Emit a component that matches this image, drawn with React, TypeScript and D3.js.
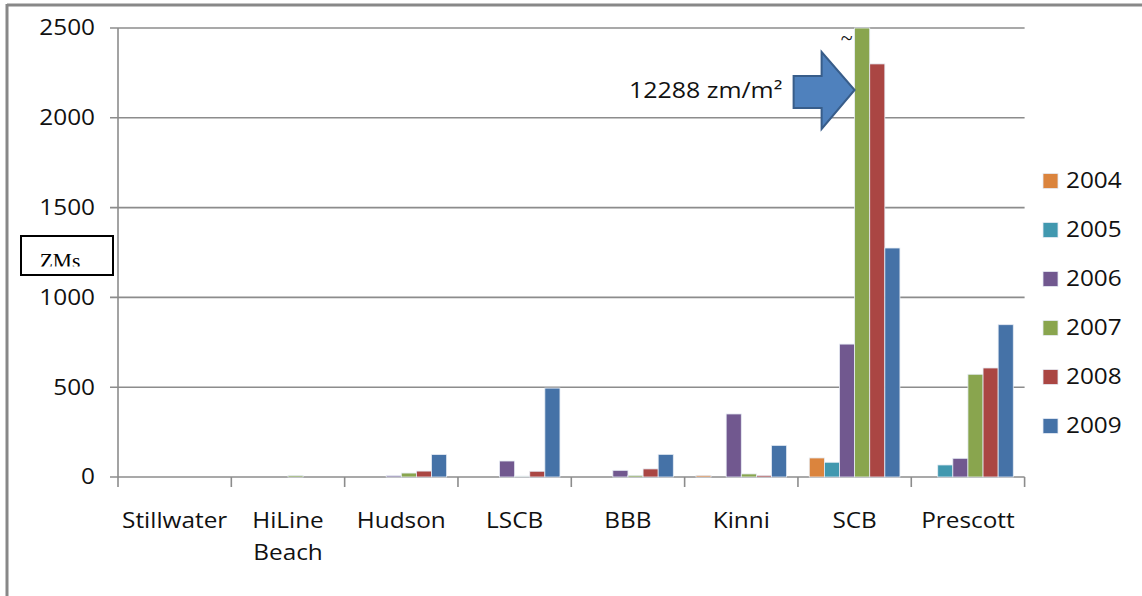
import React from "react";
import * as d3 from "d3";

const categories = ["Stillwater", "HiLine Beach", "Hudson", "LSCB", "BBB", "Kinni", "SCB", "Prescott"];
const years = ["2004", "2005", "2006", "2007", "2008", "2009"];
const colors = ["#DB843D", "#4198AF", "#71588F", "#89A54E", "#AA4643", "#4572A7"];
const v2004 = [0, 0, 0, 0, 0, 9, 106, 0];
const v2005 = [0, 0, 0, 0, 0, 0, 82, 67];
const v2006 = [0, 0, 7, 89, 37, 351, 740, 104];
const v2007 = [0, 8, 22, 5, 9, 17, 12288, 572];
const v2008 = [0, 0, 33, 32, 45, 9, 2300, 607];
const v2009 = [0, 0, 125, 495, 126, 176, 1275, 848];
const series = [v2004, v2005, v2006, v2007, v2008, v2009];
const yTicks = [0, 500, 1000, 1500, 2000, 2500];
const annotation = "12288 zm/m²";

const FONT = "'Open Sans', Lato, sans-serif";
const SX = 1.16;

function SText(props: { x: number; y: number; anchor?: string; size: number; lines?: string[]; text?: string; lh?: number }) {
  const { x, y, anchor = "start", size, lines, text, lh = 32 } = props;
  const ls = lines ?? [text ?? ""];
  return (
    <text
      transform={`translate(${x},${y}) scale(${SX},1)`}
      textAnchor={anchor}
      fontFamily={FONT}
      fontSize={size}
      fill="#111"
    >
      {ls.map((l, i) => (
        <tspan key={i} x={0} y={i * lh} dy="0.35em">
          {l}
        </tspan>
      ))}
    </text>
  );
}

export default function App() {
  const W = 1142, H = 596;
  const left = 118, right = 1024.6, top = 28, bottom = 477;
  const x0 = d3.scaleBand<string>().domain(categories).range([left, right]).paddingInner(0).paddingOuter(0);
  const groupPad = (x0.bandwidth() * 1.5) / 7.5 / 2;
  const x1 = d3.scaleBand<string>().domain(years).range([0, x0.bandwidth() - 2 * groupPad]).padding(0);
  const y = d3.scaleLinear().domain([0, 2500]).range([bottom, top]).clamp(true);
  const grid = "#8C8C8C";

  const arrowTipX = (x0("SCB") as number) + groupPad + (x1("2007") as number);
  const arrowY = 90;

  return (
    <svg width={W} height={H} style={{ position: "absolute", left: 0, top: 0, background: "#fff" }}>
      <defs>
        <clipPath id="zmsclip">
          <rect x={21} y={236} width={92} height={30.5} />
        </clipPath>
      </defs>
      <rect x={0} y={0} width={W} height={H} fill="#fff" />
      {/* outer frame */}
      <line x1={7} x2={W} y1={5} y2={5} stroke="#888" strokeWidth={3} />
      <line x1={7} x2={7} y1={4} y2={H} stroke="#888" strokeWidth={3} />

      {/* gridlines and y ticks */}
      {yTicks.map((t) => (
        <g key={t}>
          <line x1={110} x2={right} y1={y(t)} y2={y(t)} stroke={grid} strokeWidth={1.6} />
          <SText x={95} y={y(t)} anchor="end" size={21} text={String(t)} />
        </g>
      ))}
      {/* y axis */}
      <line x1={left} x2={left} y1={top} y2={bottom} stroke={grid} strokeWidth={1.6} />
      {/* category ticks */}
      {[...categories.map((c) => x0(c) as number), right].map((xx, i) => (
        <line key={i} x1={xx} x2={xx} y1={bottom} y2={bottom + 10} stroke={grid} strokeWidth={1.6} />
      ))}

      {/* bars */}
      {categories.map((c, ci) => (
        <g key={c}>
          {series.map((s, si) => {
            const v = s[ci];
            if (v <= 0) return null;
            const bx = (x0(c) as number) + groupPad + (x1(years[si]) as number);
            const by = y(v);
            return (
              <rect
                key={si}
                x={bx}
                y={by}
                width={x1.bandwidth()}
                height={bottom - by}
                fill={colors[si]}
                stroke="#E6ECF4"
                strokeWidth={0.8}
              />
            );
          })}
        </g>
      ))}

      {/* category labels */}
      {categories.map((c) => {
        const cx = (x0(c) as number) + x0.bandwidth() / 2;
        const parts = c === "HiLine Beach" ? ["HiLine", "Beach"] : [c];
        return <SText key={c} x={cx} y={521} anchor="middle" size={21} lines={parts} lh={32} />;
      })}

      {/* legend */}
      {years.map((yr, i) => (
        <g key={yr}>
          <rect x={1043} y={181 + i * 49 - 7.5} width={15} height={15} fill={colors[i]} stroke="#E6ECF4" strokeWidth={0.8} />
          <SText x={1066} y={181 + i * 49} size={21} text={yr} />
        </g>
      ))}

      {/* ZMs box */}
      <rect x={21} y={236} width={92} height={39} fill="#fff" stroke="#000" strokeWidth={2} />
      <text
        x={60}
        y={267.5}
        textAnchor="middle"
        fontFamily="'Liberation Serif', serif"
        fontSize={21.5}
        fill="#000"
        clipPath="url(#zmsclip)"
      >
        ZMs
      </text>

      {/* annotation */}
      <text x={arrowTipX - 8} y={45} textAnchor="middle" fontFamily="'Liberation Serif', serif" fontSize={22} fill="#111">
        ~
      </text>
      <SText x={629} y={arrowY} size={21.5} text={annotation} />
      <path
        d={`M${arrowTipX - 61},${arrowY - 14} L${arrowTipX - 33},${arrowY - 14} L${arrowTipX - 33},${arrowY - 38} L${arrowTipX},${arrowY} L${arrowTipX - 33},${arrowY + 39} L${arrowTipX - 33},${arrowY + 18} L${arrowTipX - 61},${arrowY + 18} Z`}
        fill="#4F81BD"
        stroke="#385D8A"
        strokeWidth={2}
      />
    </svg>
  );
}
